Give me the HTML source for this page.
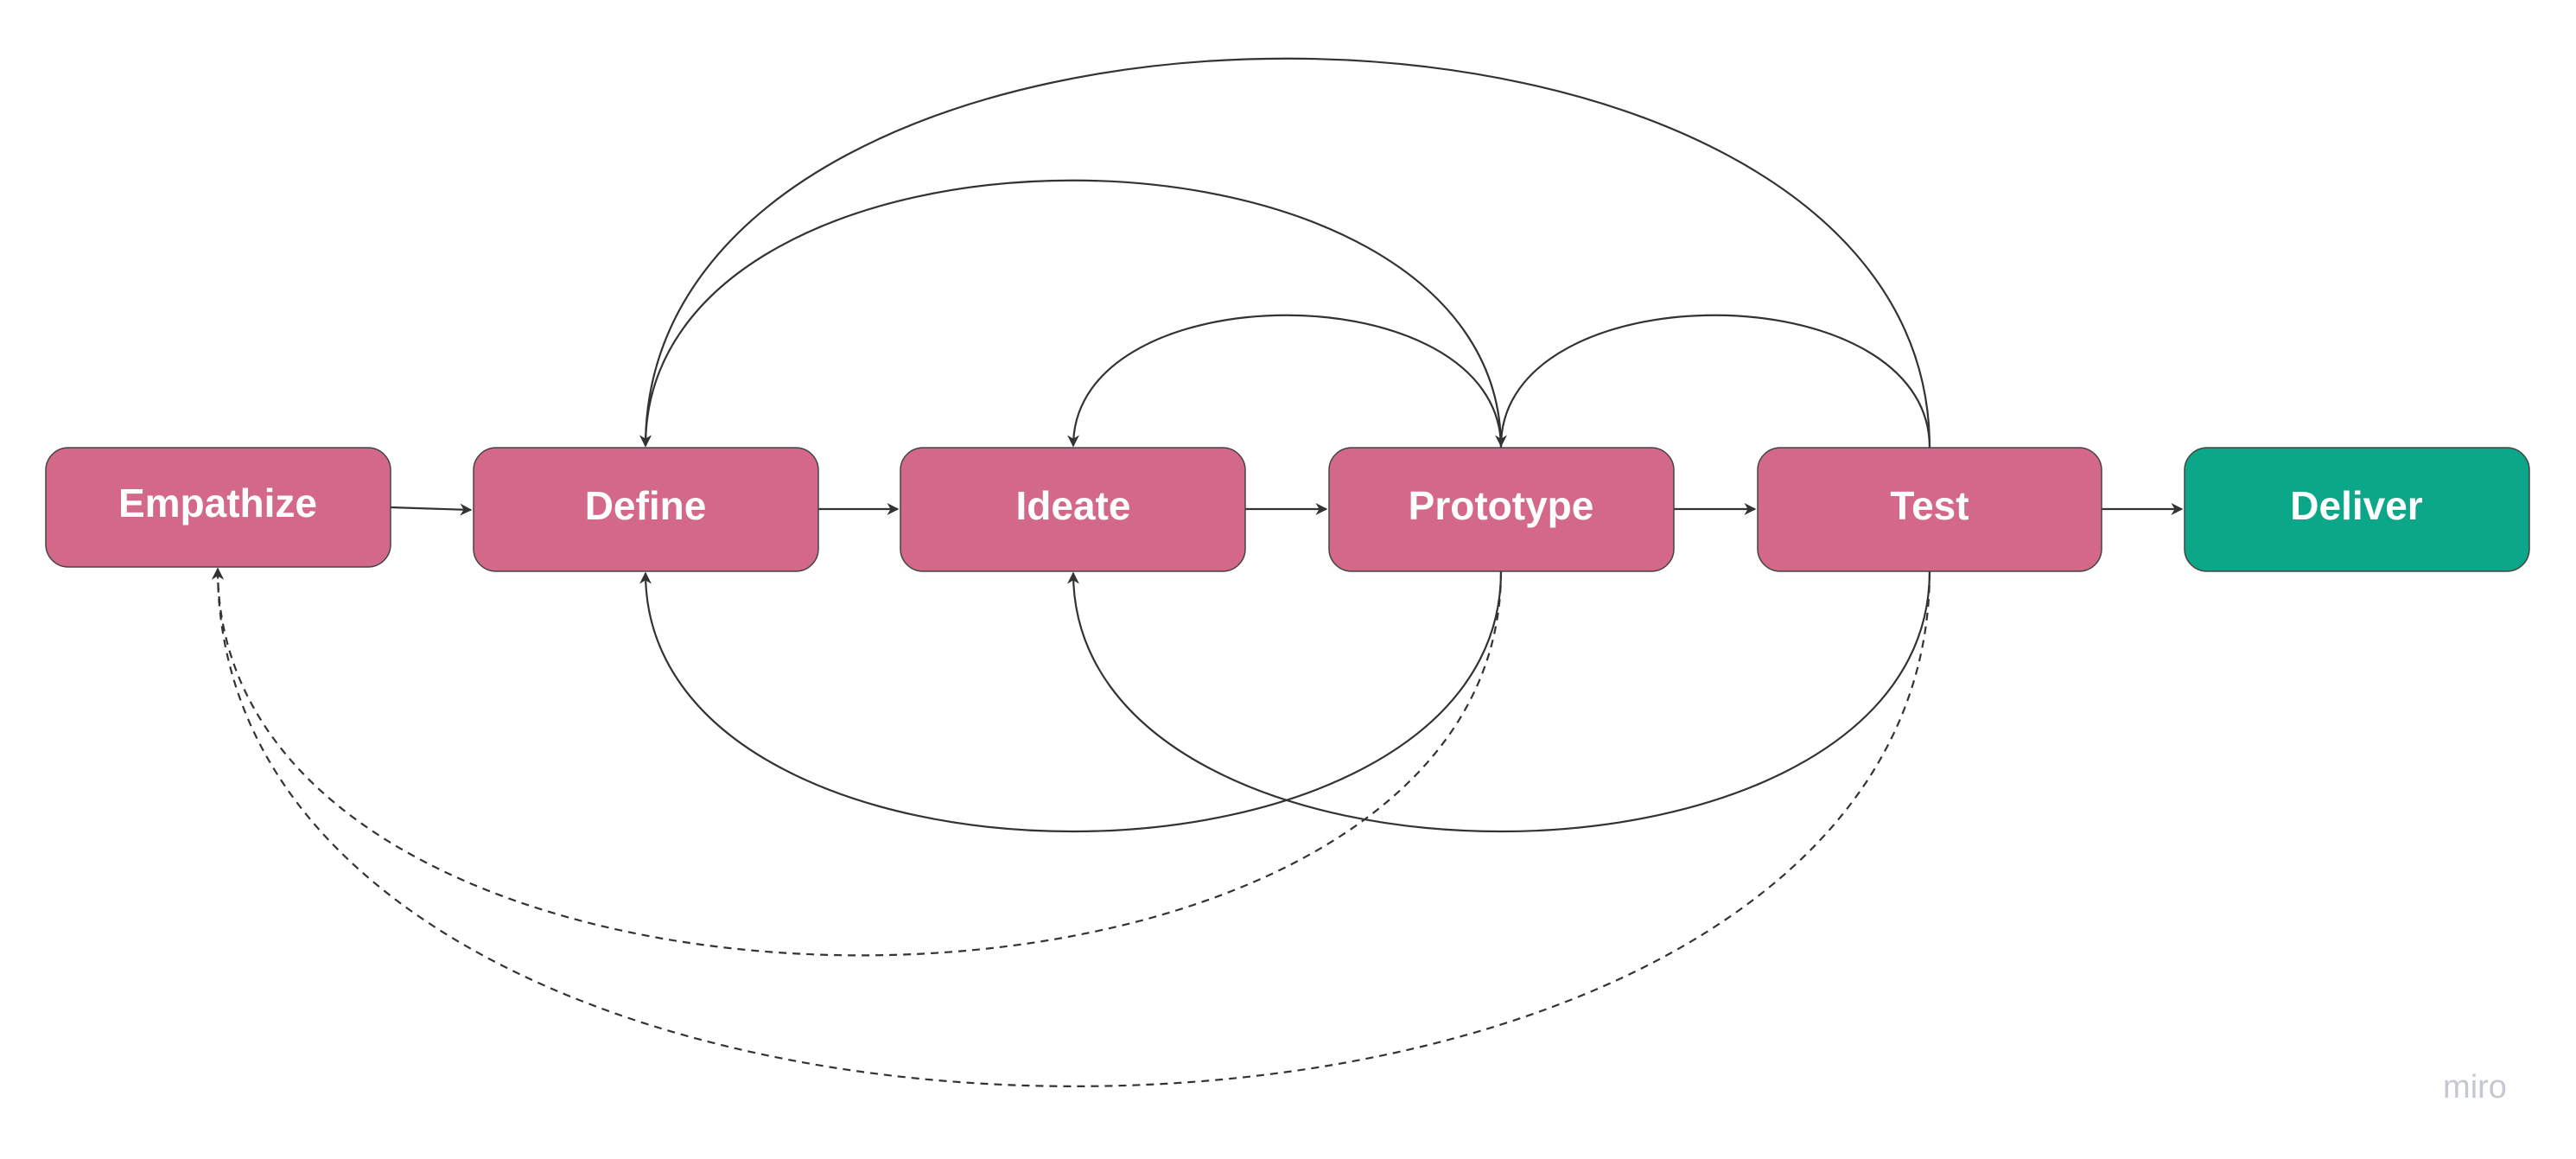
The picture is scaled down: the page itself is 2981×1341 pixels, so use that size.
<!DOCTYPE html>
<html><head><style>
html,body{margin:0;padding:0;background:#fff;}
svg{display:block}
text{font-family:"Liberation Sans",sans-serif;}
</style></head><body>
<svg width="2981" height="1341" viewBox="0 0 2981 1341" xmlns="http://www.w3.org/2000/svg">
<defs>
<marker id="b" viewBox="0 0 10 10" refX="9" refY="5" markerWidth="14" markerHeight="14" markerUnits="userSpaceOnUse" orient="auto"><path d="M0,0 L10,5 L0,10 L3,5 z" fill="#333"/></marker>
</defs>
<g fill="none" stroke="#333" stroke-width="2.2">
<path d="M452,587 L545,590" marker-end="url(#b)"/>
<path d="M947,589 L1039,589" marker-end="url(#b)"/>
<path d="M1441,589 L1535,589" marker-end="url(#b)"/>
<path d="M1937,589 L2031,589" marker-end="url(#b)"/>
<path d="M2432,589 L2525,589" marker-end="url(#b)"/>
<path d="M2233,518 C2233,-82 747,-82 747,516" marker-end="url(#b)"/>
<path d="M1737,518 C1737,106 747,106 747,516" marker-end="url(#b)"/>
<path d="M1737,518 C1737,314 1242,314 1242,516" marker-end="url(#b)"/>
<path d="M2233,518 C2233,314 1737,314 1737,516" marker-end="url(#b)"/>
<path d="M1737,661 C1737,1062 747,1062 747,663" marker-end="url(#b)"/>
<path d="M2233,661 C2233,1062 1242,1062 1242,663" marker-end="url(#b)"/>
<path d="M1737,661 C1737,1254 252,1254 252,658" stroke-dasharray="9,7" marker-end="url(#b)"/>
<path d="M2233,661 C2233,1456 252,1456 252,658" stroke-dasharray="9,7" marker-end="url(#b)"/>
</g>
<g stroke="#444" stroke-width="1.5">
<rect x="53" y="518" width="399" height="138" rx="26" fill="#d36888"/>
<rect x="548" y="518" width="399" height="143" rx="26" fill="#d36888"/>
<rect x="1042" y="518" width="399" height="143" rx="26" fill="#d36888"/>
<rect x="1538" y="518" width="399" height="143" rx="26" fill="#d36888"/>
<rect x="2034" y="518" width="398" height="143" rx="26" fill="#d36888"/>
<rect x="2528" y="518" width="399" height="143" rx="26" fill="#0ca789"/>
</g>
<g fill="#fff" font-weight="bold" font-size="46" text-anchor="middle">
<text x="252" y="598">Empathize</text>
<text x="747" y="601">Define</text>
<text x="1242" y="601">Ideate</text>
<text x="1737" y="601">Prototype</text>
<text x="2233" y="601">Test</text>
<text x="2727" y="601">Deliver</text>
</g>
<text x="2864" y="1270" fill="#c5c8d2" font-size="38" text-anchor="middle">miro</text>
</svg>
</body></html>
